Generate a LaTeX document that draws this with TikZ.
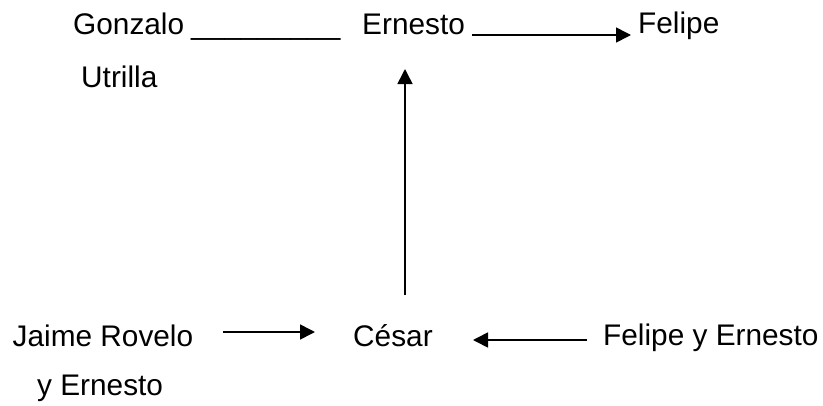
\documentclass[tikz,border=0pt]{standalone}
\usepackage{fontspec}
\setmainfont{Liberation Sans}
\usetikzlibrary{arrows.meta}
\begin{document}
\begin{tikzpicture}[x=1pt,y=-1pt,
  lbl/.style={anchor=base west,inner sep=0pt,font=\fontsize{29.8}{35}\selectfont},
  conn/.style={line width=1.6pt,-{Triangle[length=15pt,width=15pt]}}]
\useasboundingbox (0,0) rectangle (823,405);
\node[lbl] (gonzalo) at (73,34) {Gonzalo};
\node[lbl] (under) at (191,34) {\_\_\_\_\_\_\_\_\_};
\node[lbl] (ernesto) at (362,34) {Ernesto};
\node[lbl] (felipe) at (638,33.5) {Felipe};
\node[lbl] (utrilla) at (81,87) {Utrilla};
\node[lbl] (jaime) at (12.5,346) {Jaime Rovelo};
\node[lbl] (yernesto) at (37,395) {y Ernesto};
\node[lbl] (cesar) at (353,346) {César};
\node[lbl] (fye) at (603,345.5) {Felipe y Ernesto};
\coordinate (a1s) at (472,35);
\coordinate (a1e) at (631,35);
\coordinate (a2s) at (405,295);
\coordinate (a2e) at (405,69);
\coordinate (a3s) at (223,332);
\coordinate (a3e) at (315,332);
\coordinate (a4s) at (587,340);
\coordinate (a4e) at (473,340);
\draw[conn] (a1s) -- (a1e);
\draw[conn] (a2s) -- (a2e);
\draw[conn] (a3s) -- (a3e);
\draw[conn] (a4s) -- (a4e);
\end{tikzpicture}
\end{document}
